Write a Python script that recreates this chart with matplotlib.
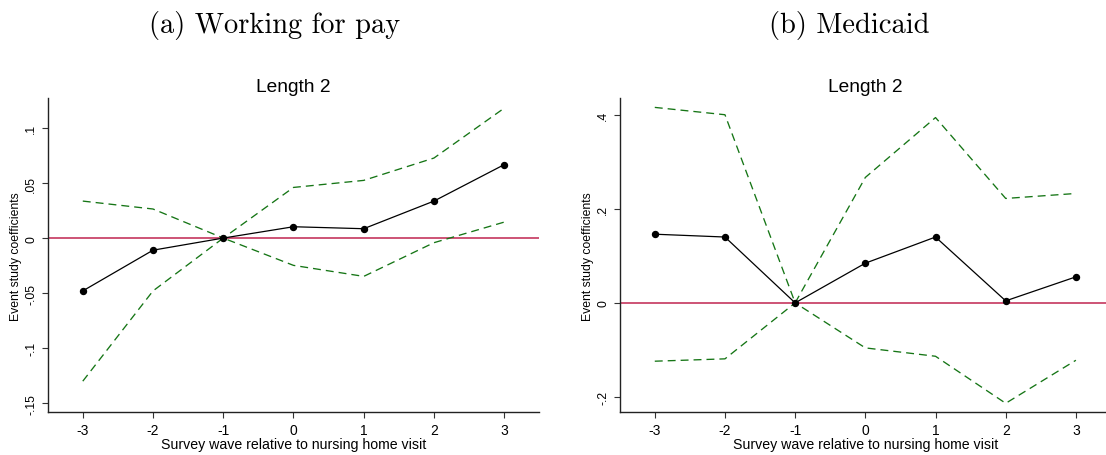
import matplotlib
matplotlib.use("Agg")
import matplotlib.pyplot as plt

plt.rcParams["font.family"] = ["Liberation Sans", "DejaVu Sans"]

# relative survey wave
waves = [-3, -2, -1, 0, 1, 2, 3]

# (a) working for pay
work_coef = [-0.048, -0.011, 0.0, 0.0103, 0.0085, 0.0336, 0.0667]
work_hi = [0.0336, 0.0264, 0.0, 0.046, 0.0524, 0.0727, 0.118]
work_lo = [-0.130, -0.048, 0.0, -0.0248, -0.0348, -0.0042, 0.0145]
work_yticks = [-0.15, -0.1, -0.05, 0, 0.05, 0.1]
work_yticklabels = ["-.15", "-.1", "-.05", "0", ".05", ".1"]

# (b) medicaid
med_coef = [0.146, 0.140, 0.0, 0.0844, 0.140, 0.0043, 0.0553]
med_hi = [0.4156, 0.400, 0.0, 0.2667, 0.394, 0.222, 0.2326]
med_lo = [-0.124, -0.119, 0.0, -0.0957, -0.1135, -0.2135, -0.122]
med_yticks = [-0.2, 0, 0.2, 0.4]
med_yticklabels = ["-.2", "0", ".2", ".4"]

panel_titles = ["(a) Working for pay", "(b) Medicaid"]

GREEN = "#157515"
CRANBERRY = "#c0244f"


def event_panel(ax, coef, lo, hi, yticks, yticklabels, ylim):
    ax.axhline(0, color=CRANBERRY, lw=1.1, zorder=1)
    for band in (hi, lo):
        ax.plot(waves, band, color=GREEN, lw=0.95, dashes=(6, 3.8), zorder=2)
    ax.plot(waves, coef, color="black", lw=0.9, marker="o", ms=4.3, zorder=3)
    ax.set_xlim(-3.5, 3.5)
    ax.set_ylim(*ylim)
    ax.set_xticks(waves)
    ax.set_xticklabels([str(w) for w in waves], fontsize=10)
    ax.set_yticks(yticks)
    ax.set_yticklabels(yticklabels, fontsize=8.7, rotation=90, va="center")
    ax.tick_params(length=4.5, width=0.8, color="#333333")
    ax.tick_params(axis="x", pad=3.5)
    ax.tick_params(axis="y", pad=3)
    for side in ("top", "right"):
        ax.spines[side].set_visible(False)
    for side in ("left", "bottom"):
        ax.spines[side].set_linewidth(1.0)
        ax.spines[side].set_color("#222222")
    ax.set_title("Length 2", fontsize=13.8, pad=5.5)
    ax.set_xlabel("Survey wave relative to nursing home visit", fontsize=10.2, labelpad=0)
    ax.set_ylabel("Event study coefficients", fontsize=8.8, labelpad=2.5)


fig = plt.figure(figsize=(11.06, 4.56), dpi=100)
ax1 = fig.add_axes([0.0431, 0.0943, 0.4445, 0.688])
ax2 = fig.add_axes([0.5603, 0.0943, 0.4442, 0.688])

event_panel(ax1, work_coef, work_lo, work_hi, work_yticks, work_yticklabels, (-0.158, 0.127))
event_panel(ax2, med_coef, med_lo, med_hi, med_yticks, med_yticklabels, (-0.232, 0.435))

fig.text(275 / 1106, 1 - 25 / 456, panel_titles[0], fontfamily="cmr10",
         fontsize=20.5, ha="center", va="center")
fig.text(849 / 1106, 1 - 25 / 456, panel_titles[1], fontfamily="cmr10",
         fontsize=20.5, ha="center", va="center")

fig.savefig("out.png", dpi=100)
